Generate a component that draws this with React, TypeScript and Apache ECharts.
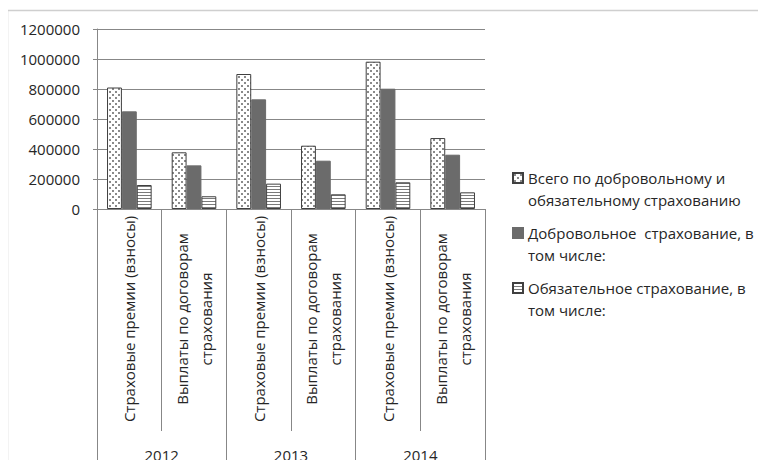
import React, { useEffect, useRef } from "react";
import * as echarts from "echarts";

const categories = [
  "Страховые премии (взносы)",
  "Выплаты по договорам\nстрахования",
  "Страховые премии (взносы)",
  "Выплаты по договорам\nстрахования",
  "Страховые премии (взносы)",
  "Выплаты по договорам\nстрахования",
];
const years = ["2012", "2013", "2014"];
const seriesNames = [
  "Всего по добровольному и обязательному страхованию",
  "Добровольное  страхование, в том числе:",
  "Обязательное страхование, в том числе:",
];
const legendLabels = [
  "Всего по добровольному и\nобязательному страхованию",
  "Добровольное  страхование, в\nтом числе:",
  "Обязательное страхование, в\nтом числе:",
];
const totalValues = [810000, 378000, 900000, 422000, 982000, 473000];
const voluntaryValues = [651000, 291000, 731000, 322000, 802000, 362000];
const compulsoryValues = [160000, 85000, 169000, 98000, 178000, 111000];
const yTicks = { min: 0, max: 1200000, interval: 200000 };

function makePattern(kind: "dots" | "stripes") {
  const c = document.createElement("canvas");
  if (kind === "dots") {
    c.width = 6;
    c.height = 6;
    const ctx = c.getContext("2d")!;
    ctx.fillStyle = "#ffffff";
    ctx.fillRect(0, 0, 6, 6);
    ctx.fillStyle = "#8a8a8a";
    ctx.fillRect(1, 1, 2, 2);
    ctx.fillRect(4, 4, 2, 2);
  } else {
    c.width = 4;
    c.height = 3;
    const ctx = c.getContext("2d")!;
    ctx.fillStyle = "#ffffff";
    ctx.fillRect(0, 0, 4, 3);
    ctx.fillStyle = "#7a7a7a";
    ctx.fillRect(0, 0, 4, 1);
  }
  return { image: c, repeat: "repeat" } as any;
}

export default function App() {
  const ref = useRef<HTMLDivElement>(null);
  useEffect(() => {
    if (!ref.current) return;
    const chart = echarts.init(ref.current, undefined, { renderer: "svg" });
    const font = "Open Sans";
    const gridColor = "#878787";
    const textColor = "#262626";
    const dots = makePattern("dots");
    const stripes = makePattern("stripes");
    const labelMap: Record<string, string> = {};
    seriesNames.forEach((n, i) => (labelMap[n] = "\n" + legendLabels[i]));
    chart.setOption({
      animation: false,
      backgroundColor: "#ffffff",
      textStyle: { fontFamily: font, color: textColor },
      graphic: [
        {
          type: "rect",
          shape: { x: 7.5, y: 10.5, width: 800, height: 500 },
          style: { fill: "none", stroke: "#cfcfcf", lineWidth: 1.5 },
          silent: true,
          z: -10,
        },
      ],
      grid: { left: 97, top: 29, width: 388, height: 180 },
      legend: {
        orient: "vertical",
        left: 512,
        top: 145,
        padding: 0,
        itemWidth: 10,
        itemHeight: 10,
        itemGap: -11,
        icon: "rect",
        data: seriesNames,
        formatter: (n: string) => labelMap[n] || n,
        textStyle: {
          fontFamily: font,
          fontSize: 15,
          color: textColor,
          lineHeight: 22,
        },
      },
      xAxis: [
        {
          type: "category",
          data: categories,
          axisLine: { show: true, lineStyle: { color: gridColor } },
          axisTick: { show: true, length: 222, lineStyle: { color: gridColor } },
          axisLabel: {
            interval: 0,
            rotate: 90,
            align: "center",
            verticalAlign: "middle",
            margin: 110,
            fontFamily: font,
            fontSize: 15,
            lineHeight: 24,
            color: textColor,
          },
        },
        {
          type: "category",
          data: years,
          position: "bottom",
          axisLine: { show: true, lineStyle: { color: gridColor } },
          axisTick: { show: true, length: 256, lineStyle: { color: gridColor } },
          axisLabel: {
            interval: 0,
            margin: 238,
            fontFamily: font,
            fontSize: 15,
            color: textColor,
          },
        },
      ],
      yAxis: {
        type: "value",
        min: yTicks.min,
        max: yTicks.max,
        interval: yTicks.interval,
        axisLine: { show: true, lineStyle: { color: gridColor } },
        axisTick: { show: true, length: 4, lineStyle: { color: gridColor } },
        splitLine: { lineStyle: { color: gridColor } },
        axisLabel: {
          margin: 17,
          fontFamily: font,
          fontSize: 15,
          color: textColor,
          formatter: (v: number) => String(v),
        },
      },
      series: [
        {
          name: seriesNames[0],
          type: "bar",
          data: totalValues,
          barGap: "0%",
          barCategoryGap: "31%",
          itemStyle: { color: dots, borderColor: "#404040", borderWidth: 1 },
        },
        {
          name: seriesNames[1],
          type: "bar",
          data: voluntaryValues,
          itemStyle: { color: "#6b6b6b", borderColor: "#6b6b6b", borderWidth: 1 },
        },
        {
          name: seriesNames[2],
          type: "bar",
          data: compulsoryValues,
          itemStyle: { color: stripes, borderColor: "#404040", borderWidth: 1 },
        },
      ],
    });
    return () => chart.dispose();
  }, []);
  return <div ref={ref} style={{ width: 766, height: 468, margin: -8 }} />;
}
